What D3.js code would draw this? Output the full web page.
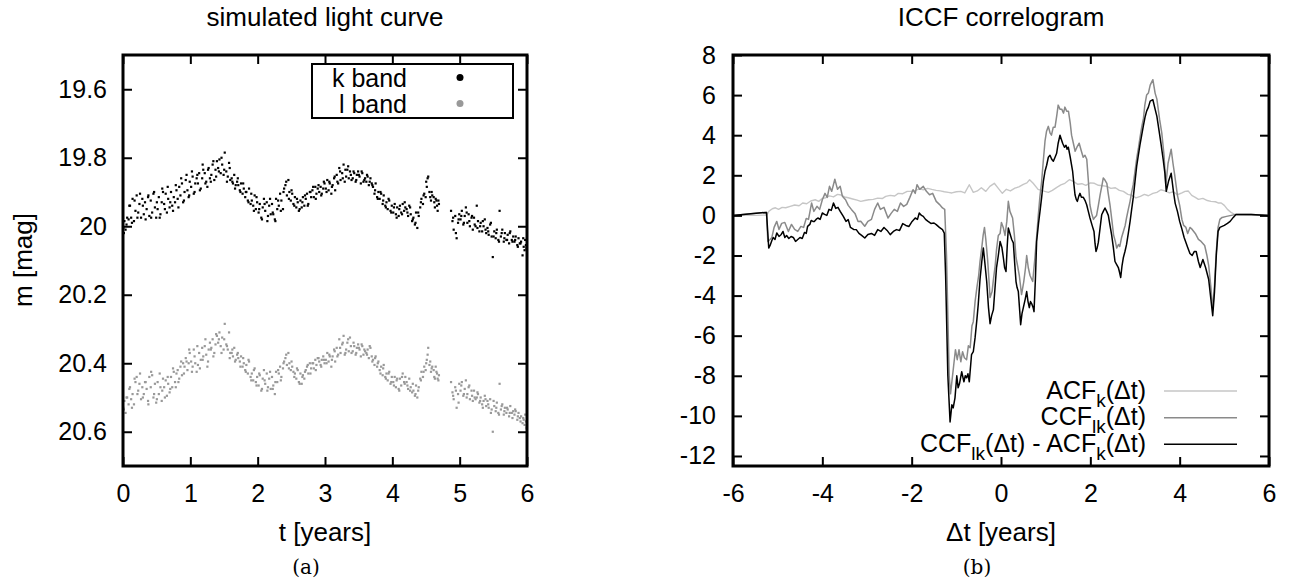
<!DOCTYPE html>
<html>
<head>
<meta charset="utf-8">
<script src="https://cdn.jsdelivr.net/npm/d3@7"></script>
<style>
  body { margin: 0; background: #fff; }
  text { font-family: "Liberation Sans", Arial, sans-serif; }
</style>
</head>
<body>
<svg id="fig" width="1290" height="587"></svg>
<script>
// ---- light curve (panel a): observation times and magnitudes in both bands ----
const tObs = [
  0.004, 0.021, 0.038, 0.062, 0.083,
  0.104, 0.121, 0.142, 0.163, 0.185,
  0.203, 0.226, 0.244, 0.268, 0.287,
  0.309, 0.327, 0.351, 0.372, 0.391,
  0.412, 0.433, 0.452, 0.474, 0.493,
  0.514, 0.532, 0.556, 0.575, 0.594,
  0.611, 0.634, 0.652, 0.671, 0.692,
  0.713, 0.731, 0.754, 0.773, 0.794,
  0.812, 0.835, 0.853, 0.876, 0.893,
  0.914, 0.932, 0.957, 0.975, 0.991,
  1.012, 1.034, 1.051, 1.073, 1.094,
  1.113, 1.131, 1.155, 1.176, 1.192,
  1.214, 1.236, 1.253, 1.272, 1.291,
  1.312, 1.331, 1.356, 1.374, 1.395,
  1.413, 1.432, 1.451, 1.473, 1.494,
  1.511, 1.534, 1.556, 1.575, 1.593,
  1.614, 1.633, 1.652, 1.674, 1.695,
  1.712, 1.735, 1.753, 1.776, 1.794,
  1.815, 1.832, 1.854, 1.872, 1.895,
  1.913, 1.934, 1.955, 1.973, 1.992,
  2.014, 2.031, 2.054, 2.075, 2.093,
  2.112, 2.135, 2.153, 2.171, 2.194,
  2.213, 2.232, 2.255, 2.273, 2.291,
  2.314, 2.333, 2.352, 2.376, 2.393,
  2.412, 2.434, 2.456, 2.471, 2.492,
  2.513, 2.531, 2.553, 2.574, 2.595,
  2.612, 2.635, 2.654, 2.672, 2.693,
  2.714, 2.733, 2.752, 2.775, 2.794,
  2.813, 2.834, 2.856, 2.873, 2.892,
  2.914, 2.935, 2.952, 2.974, 2.993,
  3.012, 3.034, 3.053, 3.071, 3.094,
  3.113, 3.135, 3.151, 3.174, 3.195,
  3.212, 3.231, 3.255, 3.276, 3.293,
  3.314, 3.332, 3.353, 3.371, 3.394,
  3.412, 3.434, 3.455, 3.473, 3.492,
  3.513, 3.532, 3.554, 3.571, 3.595,
  3.614, 3.633, 3.651, 3.675, 3.694,
  3.713, 3.735, 3.752, 3.774, 3.793,
  3.812, 3.834, 3.856, 3.872, 3.895,
  3.913, 3.931, 3.954, 3.973, 3.992,
  4.014, 4.035, 4.053, 4.072, 4.094,
  4.113, 4.132, 4.154, 4.175, 4.193,
  4.212, 4.234, 4.251, 4.273, 4.294,
  4.313, 4.335, 4.352, 4.371, 4.392,
  4.414, 4.432, 4.455, 4.474, 4.495,
  4.512, 4.533, 4.551, 4.574, 4.593,
  4.614, 4.632, 4.655, 4.673, 4.692,
  4.872, 4.893,
  4.911, 4.934, 4.955, 4.976, 4.994,
  5.013, 5.032, 5.054, 5.075, 5.092,
  5.114, 5.133, 5.152, 5.176, 5.195,
  5.213, 5.236, 5.254, 5.272, 5.293,
  5.312, 5.334, 5.355, 5.373, 5.394,
  5.413, 5.431, 5.453, 5.475, 5.492,
  5.514, 5.535, 5.552, 5.574, 5.593,
  5.612, 5.633, 5.655, 5.671, 5.694,
  5.713, 5.734, 5.752, 5.774, 5.795,
  5.814, 5.832, 5.856, 5.874, 5.893,
  5.912, 5.934, 5.951, 5.973, 5.992,
  0.013, 0.052, 0.094, 0.133, 0.172,
  0.214, 0.253, 0.295, 0.336, 0.377,
  0.418, 0.462, 0.503, 0.545, 0.583,
  0.622, 0.664, 0.702, 0.743, 0.784,
  0.823, 0.864, 0.905, 0.944, 0.983,
  1.024, 1.063, 1.104, 1.142, 1.183,
  1.224, 1.263, 1.304, 1.342, 1.383,
  1.424, 1.463, 1.503, 1.544, 1.585,
  1.624, 1.664, 1.705, 1.744, 1.785,
  1.824, 1.864, 1.905, 1.944, 1.983,
  2.023, 2.064, 2.103, 2.144, 2.184,
  2.224, 2.263, 2.304, 2.344, 2.384,
  2.424, 2.464, 2.503, 2.544, 2.584,
  2.624, 2.664, 2.703, 2.744, 2.784,
  2.824, 2.863, 2.904, 2.944, 2.983,
  3.023, 3.064, 3.103, 3.144, 3.184,
  3.224, 3.264, 3.303, 3.344, 3.384,
  3.424, 3.464, 3.503, 3.544, 3.584,
  3.624, 3.664, 3.703, 3.744, 3.784,
  3.824, 3.864, 3.904, 3.944, 3.984,
  4.024, 4.064, 4.103, 4.144, 4.184,
  4.224, 4.264, 4.304, 4.344, 4.384,
  4.424, 4.464, 4.503, 4.524, 4.563,
  4.584, 4.623, 4.644, 4.664, 4.684,
  4.903, 4.944, 4.984, 5.024, 5.063,
  5.104, 5.143, 5.184, 5.223, 5.264,
  5.304, 5.344, 5.384, 5.424, 5.464,
  5.504, 5.544, 5.584, 5.624, 5.664,
  5.704, 5.744, 5.784, 5.824, 5.864,
  5.904, 5.944, 5.964, 5.984, 5.996
];

const kMag = [
  20.005, 19.985, 20.01, 19.975, 19.98,
  19.94, 19.975, 19.92, 19.985, 19.955,
  19.91, 19.96, 19.935, 19.975, 19.92,
  19.965, 19.93, 19.95, 19.915, 19.97,
  19.925, 19.96, 19.905, 19.945, 19.975,
  19.95, 19.915, 19.965, 19.93, 19.9,
  19.935, 19.905, 19.96, 19.92, 19.945,
  19.9, 19.94, 19.915, 19.93, 19.895,
  19.92, 19.885, 19.91, 19.875, 19.93,
  19.9, 19.865, 19.895, 19.915, 19.87,
  19.885, 19.855, 19.905, 19.875, 19.86,
  19.875, 19.845, 19.89, 19.86, 19.835,
  19.845, 19.87, 19.885, 19.83, 19.86,
  19.85, 19.82, 19.865, 19.835, 19.81,
  19.83, 19.805, 19.845, 19.82, 19.85,
  19.785, 19.84, 19.855, 19.815, 19.865,
  19.86, 19.875, 19.85, 19.88, 19.87,
  19.88, 19.895, 19.875, 19.905, 19.89,
  19.915, 19.9, 19.925, 19.89, 19.935,
  19.925, 19.94, 19.91, 19.95, 19.93,
  19.96, 19.935, 19.975, 19.945, 19.92,
  19.955, 19.93, 19.97, 19.94, 19.965,
  19.935, 19.965, 19.98, 19.92, 19.95,
  19.94, 19.905, 19.925, 19.95, 19.89,
  19.88, 19.91, 19.865, 19.9, 19.925,
  19.905, 19.935, 19.915, 19.945, 19.93,
  19.955, 19.925, 19.945, 19.915, 19.94,
  19.92, 19.905, 19.935, 19.9, 19.915,
  19.895, 19.915, 19.885, 19.905, 19.89,
  19.9, 19.885, 19.905, 19.89, 19.875,
  19.89, 19.865, 19.895, 19.875, 19.905,
  19.88, 19.86, 19.895, 19.85, 19.875,
  19.83, 19.865, 19.845, 19.82, 19.87,
  19.855, 19.835, 19.86, 19.84, 19.865,
  19.86, 19.845, 19.87, 19.85, 19.84,
  19.855, 19.875, 19.845, 19.87, 19.86,
  19.87, 19.855, 19.88, 19.86, 19.875,
  19.885, 19.905, 19.875, 19.915, 19.9,
  19.92, 19.905, 19.935, 19.91, 19.94,
  19.93, 19.95, 19.925, 19.955, 19.94,
  19.96, 19.935, 19.965, 19.945, 19.97,
  19.94, 19.96, 19.935, 19.955, 19.945,
  19.95, 19.97, 19.94, 19.965, 19.985,
  19.975, 19.995, 19.96, 20.005, 19.97,
  19.945, 19.92, 19.935, 19.905, 19.915,
  19.885, 19.855, 19.9, 19.925, 19.91,
  19.915, 19.945, 19.925, 19.955, 19.935,
  19.955, 19.985,
  20.01, 19.97, 20.035, 19.99, 19.965,
  19.98, 19.955, 19.995, 19.97, 19.945,
  19.99, 19.965, 20.0, 19.975, 20.01,
  19.975, 20.0, 19.94, 19.985, 20.015,
  19.99, 20.015, 20.0, 19.98, 20.02,
  20.005, 20.025, 19.995, 20.03, 20.09,
  20.015, 20.035, 20.01, 20.04, 19.955,
  20.03, 20.01, 20.045, 20.02, 20.04,
  20.025, 20.05, 20.015, 20.04, 20.03,
  20.045, 20.03, 20.055, 20.035, 20.05,
  20.045, 20.085, 20.06, 20.04, 20.065,
  20.02, 19.995, 19.94, 19.99, 19.925,
  19.975, 19.905, 19.94, 19.98, 19.91,
  19.975, 19.9, 19.93, 19.975, 19.89,
  19.95, 19.885, 19.93, 19.955, 19.88,
  19.945, 19.86, 19.925, 19.85, 19.91,
  19.84, 19.9, 19.85, 19.895, 19.82,
  19.875, 19.835, 19.87, 19.81, 19.855,
  19.84, 19.8, 19.835, 19.87, 19.83,
  19.87, 19.89, 19.86, 19.9, 19.875,
  19.9, 19.93, 19.905, 19.955, 19.915,
  19.95, 19.98, 19.935, 19.985, 19.92,
  19.96, 19.985, 19.925, 19.955, 19.9,
  19.87, 19.92, 19.895, 19.94, 19.92,
  19.95, 19.93, 19.91, 19.94, 19.9,
  19.885, 19.92, 19.88, 19.91, 19.87,
  19.9, 19.87, 19.885, 19.855, 19.87,
  19.84, 19.86, 19.835, 19.825, 19.85,
  19.84, 19.865, 19.85, 19.84, 19.865,
  19.85, 19.87, 19.88, 19.895, 19.92,
  19.9, 19.925, 19.945, 19.92, 19.96,
  19.945, 19.975, 19.95, 19.965, 19.93,
  19.96, 19.945, 19.98, 19.99, 19.96,
  19.93, 19.91, 19.87, 19.86, 19.915,
  19.9, 19.93, 19.92, 19.94, 19.925,
  19.975, 20.02, 19.98, 19.97, 19.99,
  19.96, 19.985, 19.97, 19.995, 20.005,
  20.0, 19.985, 20.01, 20.015, 19.99,
  20.03, 20.02, 20.045, 20.02, 20.035,
  20.04, 20.02, 20.045, 20.04, 20.06,
  20.05, 20.035, 20.07, 20.055, 20.06
];

const lMag = [
  20.53, 20.51, 20.545, 20.50, 20.52,
  20.47, 20.505, 20.49, 20.52, 20.455,
  20.44, 20.48, 20.46, 20.505, 20.47,
  20.49, 20.455, 20.475, 20.51, 20.44,
  20.47, 20.435, 20.5, 20.46, 20.515,
  20.455, 20.49, 20.47, 20.51, 20.445,
  20.47, 20.45, 20.495, 20.46, 20.485,
  20.44, 20.47, 20.425, 20.455, 20.43,
  20.42, 20.445, 20.41, 20.435, 20.4,
  20.41, 20.385, 20.42, 20.4, 20.37,
  20.395, 20.41, 20.36, 20.4, 20.425,
  20.405, 20.37, 20.39, 20.355, 20.38,
  20.35, 20.375, 20.41, 20.36, 20.34,
  20.355, 20.33, 20.37, 20.345, 20.32,
  20.34, 20.31, 20.35, 20.325, 20.36,
  20.285, 20.345, 20.36, 20.31, 20.37,
  20.37, 20.38, 20.355, 20.39, 20.375,
  20.385, 20.395, 20.38, 20.41, 20.4,
  20.42, 20.405, 20.43, 20.395, 20.44,
  20.43, 20.45, 20.415, 20.455, 20.44,
  20.465, 20.435, 20.48, 20.445, 20.42,
  20.46, 20.43, 20.47, 20.445, 20.475,
  20.44, 20.465, 20.49, 20.425, 20.455,
  20.43, 20.41, 20.44, 20.415, 20.395,
  20.385, 20.405, 20.37, 20.4, 20.42,
  20.41, 20.425, 20.43, 20.445, 20.42,
  20.455, 20.43, 20.46, 20.435, 20.445,
  20.42, 20.41, 20.43, 20.4, 20.415,
  20.4, 20.415, 20.39, 20.405, 20.385,
  20.395, 20.405, 20.39, 20.38, 20.4,
  20.39, 20.37, 20.395, 20.38, 20.41,
  20.38, 20.36, 20.395, 20.355, 20.375,
  20.33, 20.37, 20.345, 20.32, 20.375,
  20.36, 20.34, 20.365, 20.325, 20.37,
  20.365, 20.35, 20.375, 20.355, 20.345,
  20.36, 20.38, 20.35, 20.375, 20.365,
  20.37, 20.36, 20.385, 20.355, 20.38,
  20.39, 20.405, 20.38, 20.41, 20.395,
  20.42, 20.41, 20.435, 20.405, 20.44,
  20.43, 20.45, 20.425, 20.46, 20.44,
  20.455, 20.44, 20.47, 20.445, 20.475,
  20.445, 20.465, 20.43, 20.455, 20.44,
  20.455, 20.475, 20.445, 20.47, 20.485,
  20.48, 20.495, 20.465, 20.5, 20.47,
  20.445, 20.425, 20.44, 20.41, 20.42,
  20.39, 20.355, 20.405, 20.425, 20.41,
  20.42, 20.445, 20.425, 20.445, 20.435,
  20.455, 20.485,
  20.505, 20.47, 20.53, 20.49, 20.46,
  20.48, 20.455, 20.495, 20.475, 20.45,
  20.49, 20.47, 20.505, 20.48, 20.51,
  20.48, 20.505, 20.5, 20.49, 20.515,
  20.5, 20.52, 20.51, 20.495, 20.525,
  20.51, 20.53, 20.505, 20.535, 20.6,
  20.525, 20.54, 20.515, 20.545, 20.46,
  20.535, 20.52, 20.55, 20.53, 20.545,
  20.535, 20.555, 20.525, 20.545, 20.54,
  20.55, 20.54, 20.565, 20.545, 20.56,
  20.555, 20.575, 20.565, 20.55, 20.59,
  20.535, 20.5, 20.475, 20.53, 20.445,
  20.49, 20.43, 20.5, 20.455, 20.52,
  20.425, 20.49, 20.505, 20.43, 20.48,
  20.5, 20.44, 20.475, 20.415, 20.47,
  20.455, 20.395, 20.43, 20.395, 20.36,
  20.425, 20.38, 20.35, 20.415, 20.39,
  20.33, 20.395, 20.36, 20.38, 20.315,
  20.33, 20.37, 20.33, 20.35, 20.385,
  20.36, 20.395, 20.37, 20.41, 20.385,
  20.425, 20.39, 20.45, 20.42, 20.465,
  20.43, 20.475, 20.45, 20.48, 20.425,
  20.475, 20.455, 20.42, 20.45, 20.4,
  20.375, 20.415, 20.395, 20.44, 20.415,
  20.46, 20.44, 20.425, 20.405, 20.43,
  20.4, 20.42, 20.385, 20.41, 20.39,
  20.4, 20.375, 20.39, 20.365, 20.38,
  20.355, 20.34, 20.37, 20.33, 20.35,
  20.34, 20.37, 20.355, 20.345, 20.36,
  20.375, 20.35, 20.395, 20.385, 20.4,
  20.43, 20.415, 20.445, 20.43, 20.455,
  20.465, 20.45, 20.48, 20.44, 20.46,
  20.465, 20.48, 20.46, 20.49, 20.48,
  20.45, 20.425, 20.4, 20.375, 20.395,
  20.415, 20.44, 20.41, 20.43, 20.45,
  20.495, 20.48, 20.515, 20.465, 20.49,
  20.5, 20.465, 20.495, 20.5, 20.485,
  20.51, 20.53, 20.505, 20.52, 20.545,
  20.51, 20.53, 20.55, 20.525, 20.54,
  20.53, 20.545, 20.56, 20.535, 20.555,
  20.57, 20.56, 20.58, 20.57, 20.585
];

const timeTicks = [0, 1, 2, 3, 4, 5, 6];
const magTicks = [19.6, 19.8, 20, 20.2, 20.4, 20.6];

// ---- correlogram (panel b): [lag, value] ----
const acfPoints = [
  [-6, 0], [-5.5, 0], [-5.24, 0.02], [-5.2, 0.2], [-5.12, 0.33], [-5.05, 0.38], [-4.98, 0.3],
  [-4.9, 0.4], [-4.82, 0.38], [-4.72, 0.45], [-4.62, 0.52], [-4.52, 0.48], [-4.44, 0.62],
  [-4.35, 0.58], [-4.26, 0.72], [-4.16, 0.78], [-4.08, 0.7], [-4.0, 0.85], [-3.92, 0.88],
  [-3.84, 0.97], [-3.75, 0.92], [-3.66, 1.05], [-3.58, 1.02], [-3.5, 0.92], [-3.42, 0.88],
  [-3.32, 0.82], [-3.22, 0.76], [-3.14, 0.7], [-3.05, 0.74], [-2.96, 0.78], [-2.86, 0.8],
  [-2.76, 0.86], [-2.66, 0.84], [-2.58, 0.95], [-2.48, 1.0], [-2.38, 0.97], [-2.3, 1.1],
  [-2.2, 1.08], [-2.1, 1.2], [-2.02, 1.2], [-1.92, 1.25], [-1.82, 1.32], [-1.74, 1.28],
  [-1.64, 1.35], [-1.55, 1.3], [-1.45, 1.25], [-1.36, 1.22], [-1.27, 1.18], [-1.18, 1.15],
  [-1.1, 1.12], [-1.0, 1.18], [-0.9, 1.2], [-0.81, 1.12], [-0.71, 1.53], [-0.62, 1.15],
  [-0.53, 1.22], [-0.44, 1.38], [-0.34, 1.2], [-0.25, 1.45], [-0.15, 1.6], [-0.06, 1.35],
  [0.03, 1.1], [0.12, 1.3], [0.21, 1.22], [0.31, 1.36], [0.4, 1.42], [0.5, 1.55], [0.58, 1.62],
  [0.64, 1.78], [0.72, 1.6], [0.83, 1.3], [0.94, 1.22], [1.06, 1.15], [1.15, 1.25], [1.25, 1.4],
  [1.34, 1.52], [1.43, 1.6], [1.53, 1.78], [1.62, 1.7], [1.72, 1.55], [1.81, 1.58], [1.9, 1.5],
  [2.0, 1.62], [2.09, 1.6], [2.18, 1.5], [2.28, 1.48], [2.37, 1.45], [2.46, 1.35], [2.56, 1.38],
  [2.65, 1.25], [2.74, 1.2], [2.84, 1.05], [2.93, 1.0], [3.02, 0.87], [3.12, 0.95], [3.21, 1.05],
  [3.3, 0.98], [3.4, 1.1], [3.49, 1.15], [3.58, 1.28], [3.67, 1.22], [3.77, 1.12], [3.86, 1.18],
  [3.95, 1.03], [4.05, 1.12], [4.12, 1.2], [4.19, 1.22], [4.27, 1.0], [4.35, 0.9], [4.42, 0.8],
  [4.52, 0.85], [4.62, 0.74], [4.7, 0.7], [4.8, 0.68], [4.86, 0.62], [4.93, 0.62], [5.0, 0.5],
  [5.07, 0.3], [5.15, 0.15], [5.21, 0.08], [5.26, 0.03], [5.4, 0.02], [5.6, 0], [5.8, 0], [6.0, 0]
];

const ccfPoints = [
  [-6, 0], [-5.6, 0.08], [-5.25, 0.15], [-5.22, -1.3], [-5.17, -1.2], [-5.13, -1.1], [-5.08, -0.6],
  [-5.02, -0.3], [-4.97, -0.7], [-4.91, -0.4], [-4.84, -0.35], [-4.76, -0.8], [-4.69, -0.45],
  [-4.62, -0.7], [-4.55, -0.8], [-4.48, -0.55], [-4.42, -0.6], [-4.36, -0.15], [-4.31, -0.2],
  [-4.24, 0.62], [-4.19, 0.2], [-4.12, 0.45], [-4.06, 0.3], [-4.0, 0.78], [-3.94, 1.1],
  [-3.89, 0.9], [-3.84, 1.45], [-3.79, 1.2], [-3.72, 1.8], [-3.66, 1.3], [-3.6, 1.45],
  [-3.55, 0.95], [-3.48, 0.78], [-3.42, 0.5], [-3.35, 0.3], [-3.27, 0.1], [-3.2, -0.3],
  [-3.14, -0.29], [-3.05, -0.54], [-2.98, -0.3], [-2.9, -0.2], [-2.83, 0.3], [-2.76, 0.62],
  [-2.7, 0.3], [-2.62, 0.4], [-2.53, -0.13], [-2.46, 0.1], [-2.39, 0.3], [-2.32, 0.2],
  [-2.25, 0.62], [-2.18, 0.45], [-2.11, 0.55], [-2.04, 0.9], [-1.97, 1.28], [-1.92, 1.1],
  [-1.88, 1.53], [-1.82, 1.3], [-1.74, 1.45], [-1.67, 1.2], [-1.6, 1.03], [-1.53, 1.1],
  [-1.45, 0.7], [-1.38, 0.55], [-1.31, 0.37], [-1.26, 0.3], [-1.22, -2.0], [-1.16, -8.0],
  [-1.13, -8.9], [-1.1, -8.3], [-1.06, -7.5], [-1.02, -6.7], [-0.98, -7.2], [-0.94, -6.7],
  [-0.9, -7.3], [-0.86, -6.8], [-0.82, -7.1], [-0.77, -7.2], [-0.73, -6.5], [-0.69, -6.6],
  [-0.65, -5.5], [-0.62, -5.3], [-0.58, -4.3], [-0.54, -3.6], [-0.5, -3.0], [-0.47, -2.3],
  [-0.43, -1.6], [-0.4, -1.0], [-0.37, -0.6], [-0.34, -1.2], [-0.3, -2.2], [-0.27, -3.2],
  [-0.245, -4.1], [-0.2, -3.8], [-0.17, -3.2], [-0.13, -2.5], [-0.1, -1.7], [-0.06, -1.0],
  [-0.02, -0.9], [0.01, -0.35], [0.05, -0.6], [0.09, -1.0], [0.13, -0.3], [0.164, 0.7],
  [0.2, 0.2], [0.26, -0.13], [0.3, -1.0], [0.336, -2.1], [0.37, -2.5], [0.41, -3.0],
  [0.46, -3.95], [0.51, -3.3], [0.55, -2.6], [0.575, -2.0], [0.61, -2.6], [0.65, -3.0],
  [0.71, -3.3], [0.76, -2.1], [0.8, -1.0], [0.836, 0.03], [0.87, 0.9], [0.91, 1.7],
  [0.95, 2.8], [0.985, 3.7], [1.02, 4.2], [1.06, 4.44], [1.1, 4.1], [1.13, 4.0], [1.17, 4.4],
  [1.21, 4.4], [1.25, 5.0], [1.28, 5.5], [1.32, 5.3], [1.36, 5.3], [1.4, 5.1], [1.43, 5.4],
  [1.47, 5.2], [1.51, 5.2], [1.55, 4.6], [1.58, 4.0], [1.62, 3.6], [1.66, 3.2], [1.7, 3.4],
  [1.75, 3.6], [1.8, 3.2], [1.84, 2.9], [1.88, 3.0], [1.92, 2.8], [1.96, 1.6], [1.99, 0.53],
  [2.03, 0.1], [2.07, -0.2], [2.1, -0.1], [2.14, 0.0], [2.18, 0.5], [2.22, 1.03], [2.26, 1.5],
  [2.29, 1.87], [2.33, 1.75], [2.37, 1.6], [2.4, 1.1], [2.44, 0.53], [2.48, -0.2],
  [2.52, -0.97], [2.56, -1.3], [2.59, -1.63], [2.63, -1.45], [2.66, -1.55], [2.7, -1.1],
  [2.74, -0.8], [2.78, -0.5], [2.81, -0.13], [2.85, 0.3], [2.89, 0.7], [2.92, 1.1],
  [2.96, 1.53], [3.0, 2.2], [3.04, 2.87], [3.08, 3.4], [3.11, 3.86], [3.15, 4.4], [3.19, 4.85],
  [3.22, 5.5], [3.26, 6.0], [3.3, 6.1], [3.34, 6.5], [3.4, 6.77], [3.45, 6.1], [3.49, 5.8],
  [3.55, 4.8], [3.6, 4.1], [3.65, 3.0], [3.69, 1.5], [3.74, 2.6], [3.81, 3.3], [3.85, 2.6],
  [3.89, 2.0], [3.95, 1.0], [4.0, 0.5], [4.05, -0.2], [4.09, -0.5], [4.14, -0.6], [4.18, -0.9],
  [4.23, -0.6], [4.28, -0.7], [4.35, -0.9], [4.42, -1.2], [4.48, -1.3], [4.56, -1.5],
  [4.61, -2.0], [4.65, -2.5], [4.7, -3.6], [4.74, -4.7], [4.78, -3.5], [4.82, -1.8],
  [4.86, -0.6], [4.9, -0.2], [4.95, -0.1], [5.05, -0.05], [5.26, 0.05], [5.6, 0.05], [6.0, 0]
];

const diffPoints = [
  [-6, 0], [-5.6, 0.08], [-5.25, 0.15], [-5.2, -1.63], [-5.17, -1.5], [-5.13, -1.25], [-5.1, -1.1],
  [-5.06, -1.2], [-5.02, -0.88], [-4.97, -1.05], [-4.92, -0.95], [-4.88, -0.8], [-4.84, -1.1],
  [-4.8, -1.0], [-4.75, -1.15], [-4.7, -1.05], [-4.65, -1.1], [-4.6, -1.3], [-4.55, -1.2],
  [-4.5, -1.1], [-4.45, -1.15], [-4.4, -0.85], [-4.36, -0.9], [-4.33, -0.55], [-4.28, -0.45],
  [-4.25, -0.25], [-4.21, -0.3], [-4.18, -0.3], [-4.14, -0.2], [-4.1, -0.13], [-4.05, -0.2],
  [-4.0, 0.12], [-3.95, 0.05], [-3.9, 0.0], [-3.85, 0.3], [-3.8, 0.25], [-3.75, 0.62],
  [-3.7, 0.35], [-3.65, 0.4], [-3.6, 0.2], [-3.53, -0.05], [-3.47, -0.3], [-3.42, -0.21],
  [-3.37, -0.6], [-3.3, -0.7], [-3.24, -0.71], [-3.18, -0.9], [-3.12, -1.0], [-3.05, -1.13],
  [-2.98, -0.95], [-2.9, -0.9], [-2.83, -1.0], [-2.76, -0.71], [-2.69, -0.8], [-2.62, -0.6],
  [-2.55, -0.75], [-2.48, -0.96], [-2.41, -0.8], [-2.34, -0.71], [-2.27, -0.75], [-2.2, -0.41],
  [-2.13, -0.5], [-2.06, -0.55], [-1.99, -0.3], [-1.92, -0.13], [-1.87, -0.2], [-1.83, 0.12],
  [-1.78, 0.0], [-1.74, -0.05], [-1.69, -0.2], [-1.64, -0.29], [-1.57, -0.4], [-1.5, -0.38],
  [-1.45, -0.46], [-1.38, -0.6], [-1.31, -0.71], [-1.27, -0.88], [-1.24, -3.0], [-1.19, -8.0],
  [-1.14, -10.3], [-1.1, -9.45], [-1.07, -9.6], [-1.03, -9.1], [-0.99, -8.0], [-0.96, -8.6],
  [-0.93, -8.4], [-0.88, -7.8], [-0.83, -8.3], [-0.8, -8.0], [-0.77, -8.1], [-0.74, -7.9],
  [-0.71, -8.3], [-0.66, -6.95], [-0.62, -6.8], [-0.58, -6.1], [-0.54, -5.2], [-0.51, -4.45],
  [-0.47, -3.2], [-0.43, -2.3], [-0.395, -1.63], [-0.36, -2.4], [-0.32, -3.3], [-0.28, -4.6],
  [-0.245, -5.4], [-0.21, -5.0], [-0.17, -4.7], [-0.13, -3.5], [-0.1, -2.6], [-0.06, -2.0],
  [-0.02, -1.3], [0.02, -1.6], [0.052, -2.1], [0.08, -2.6], [0.112, -2.8], [0.14, -1.5],
  [0.164, -0.63], [0.2, -0.9], [0.24, -1.2], [0.276, -1.37], [0.31, -2.5], [0.336, -3.3],
  [0.36, -3.6], [0.388, -3.8], [0.42, -4.8], [0.44, -5.45], [0.47, -4.9], [0.5, -4.6],
  [0.54, -4.2], [0.575, -3.8], [0.605, -4.3], [0.634, -4.6], [0.66, -4.3], [0.686, -4.4],
  [0.72, -4.6], [0.739, -4.8], [0.77, -3.2], [0.798, -1.3], [0.84, -0.4], [0.873, 0.2],
  [0.91, 0.9], [0.948, 1.7], [0.985, 2.2], [1.022, 2.5], [1.06, 2.9], [1.097, 3.0],
  [1.135, 2.8], [1.172, 2.7], [1.21, 2.9], [1.246, 3.1], [1.28, 3.6], [1.321, 4.0],
  [1.35, 3.8], [1.38, 3.6], [1.42, 3.4], [1.455, 3.5], [1.48, 3.3], [1.507, 3.4], [1.55, 2.9],
  [1.604, 2.19], [1.63, 1.6], [1.657, 1.03], [1.685, 0.8], [1.71, 0.7], [1.74, 0.95],
  [1.768, 1.1], [1.8, 0.9], [1.843, 0.9], [1.88, 0.75], [1.918, 0.53], [1.955, 0.2],
  [1.992, -0.13], [2.04, -0.5], [2.082, -0.8], [2.105, -1.4], [2.127, -1.8], [2.155, -1.6],
  [2.179, -1.35], [2.22, -0.6], [2.254, 0.03], [2.29, 0.2], [2.328, 0.37], [2.365, 0.2],
  [2.403, 0.0], [2.44, -0.5], [2.477, -0.97], [2.515, -1.6], [2.552, -2.3], [2.59, -2.45],
  [2.627, -2.6], [2.655, -2.85], [2.68, -3.1], [2.71, -2.5], [2.74, -2.1], [2.775, -1.8],
  [2.81, -1.46], [2.85, -0.9], [2.89, -0.3], [2.925, 0.3], [2.96, 0.87], [3.0, 1.7],
  [3.04, 2.5], [3.075, 3.0], [3.11, 3.5], [3.15, 4.0], [3.19, 4.5], [3.225, 4.9], [3.26, 5.2],
  [3.3, 5.4], [3.34, 5.7], [3.4, 5.77], [3.45, 5.3], [3.49, 4.94], [3.54, 4.2], [3.58, 3.6],
  [3.63, 2.8], [3.67, 2.1], [3.7, 1.2], [3.75, 1.7], [3.81, 2.1], [3.86, 1.2], [3.9, 0.6],
  [3.95, 0.2], [4.0, -0.3], [4.04, -0.6], [4.1, -1.1], [4.18, -1.6], [4.23, -1.9], [4.28, -2.0],
  [4.33, -1.8], [4.37, -1.8], [4.42, -2.3], [4.46, -2.6], [4.52, -2.2], [4.58, -2.6],
  [4.65, -3.2], [4.7, -4.2], [4.74, -5.0], [4.78, -3.8], [4.82, -2.0], [4.86, -0.8],
  [4.9, -0.6], [4.95, -0.55], [5.0, -0.5], [5.07, -0.4], [5.13, -0.3], [5.2, -0.1],
  [5.26, 0.05], [5.6, 0.05], [6.0, 0]
];

const lagTicks = [-6, -4, -2, 0, 2, 4, 6];
const corrTicks = [8, 6, 4, 2, 0, -2, -4, -6, -8, -10, -12];

const svg = d3.select("#fig");
svg.append("rect").attr("width", 1290).attr("height", 587).attr("fill", "#fff");

// gnuplot-ish box: inward ticks on all four sides, labels only left/bottom
function drawFrame(x, y, xTicks, yTicks, yFmt, yPad) {
  const [x0, x1] = x.range();
  const [yb, yt] = [Math.max(...y.range()), Math.min(...y.range())];
  const style = g => {
    g.select(".domain").remove();
    g.selectAll(".tick line").attr("stroke", "#000").attr("stroke-width", 2);
    g.attr("font-size", 25).attr("font-family", '"Liberation Sans", Arial, sans-serif');
    g.selectAll(".tick text").attr("fill", "#000");
  };
  svg.append("g").attr("transform", `translate(0,${yb})`)
    .call(d3.axisBottom(x).tickValues(xTicks).tickSizeInner(-9).tickSizeOuter(0)
      .tickPadding(18).tickFormat(d => String(d))).call(style);
  svg.append("g").attr("transform", `translate(0,${yt})`)
    .call(d3.axisTop(x).tickValues(xTicks).tickSizeInner(-9).tickSizeOuter(0).tickFormat(""))
    .call(style);
  svg.append("g").attr("transform", `translate(${x0},0)`)
    .call(d3.axisLeft(y).tickValues(yTicks).tickSizeInner(-9).tickSizeOuter(0)
      .tickPadding(yPad).tickFormat(yFmt)).call(style);
  svg.append("g").attr("transform", `translate(${x1},0)`)
    .call(d3.axisRight(y).tickValues(yTicks).tickSizeInner(-9).tickSizeOuter(0).tickFormat(""))
    .call(style);
  svg.append("rect").attr("x", x0).attr("y", yt).attr("width", x1 - x0).attr("height", yb - yt)
    .attr("fill", "none").attr("stroke", "#000").attr("stroke-width", 3);
}

// ---------- panel (a) ----------
const xL = d3.scaleLinear().domain([0, 6]).range([123, 527]);
const yL = d3.scaleLinear().domain([19.5, 20.7]).range([55, 466]);

const lc = d3.zip(tObs, kMag, lMag);
const dot = 2.2;
svg.append("g").selectAll("rect").data(lc).join("rect")
  .attr("x", d => xL(d[0]) - dot / 2).attr("y", d => yL(d[2]) - dot / 2)
  .attr("width", dot).attr("height", dot).attr("fill", "#999");
svg.append("g").selectAll("rect").data(lc).join("rect")
  .attr("x", d => xL(d[0]) - dot / 2).attr("y", d => yL(d[1]) - dot / 2)
  .attr("width", dot).attr("height", dot).attr("fill", "#000");

drawFrame(xL, yL, timeTicks, magTicks, d => String(+d.toFixed(1)), 16);

// legend (a)
const legA = svg.append("g");
legA.append("rect").attr("x", 312).attr("y", 64).attr("width", 201).attr("height", 54)
  .attr("fill", "#fff").attr("stroke", "#000").attr("stroke-width", 2);
[["k band", "#000", 87], ["l band", "#999", 113]].forEach(([label, col, yb]) => {
  legA.append("text").attr("x", 407).attr("y", yb).attr("text-anchor", "end")
    .attr("font-size", 25).text(label);
  legA.append("circle").attr("cx", 460).attr("cy", yb - 9.5).attr("r", 3.5).attr("fill", col);
});

svg.append("text").attr("x", 325).attr("y", 26).attr("text-anchor", "middle")
  .attr("font-size", 26).text("simulated light curve");
svg.append("text").attr("x", 325).attr("y", 541).attr("text-anchor", "middle")
  .attr("font-size", 26).text("t [years]");
svg.append("text").attr("transform", "translate(32,260) rotate(-90)").attr("text-anchor", "middle")
  .attr("font-size", 26).text("m [mag]");
svg.append("text").attr("x", 306).attr("y", 574).attr("text-anchor", "middle")
  .attr("font-size", 20).style("font-family", '"DejaVu Serif", serif').text("(a)");

// ---------- panel (b) ----------
const xR = d3.scaleLinear().domain([-6, 6]).range([733, 1269]);
const yR = d3.scaleLinear().domain([-12.5, 8]).range([466, 55]);
const line = d3.line().x(d => xR(d[0])).y(d => yR(d[1]));

const series = [
  { pts: acfPoints, color: "#c6c6c6", w: 1.4 },
  { pts: ccfPoints, color: "#8a8a8a", w: 1.5 },
  { pts: diffPoints, color: "#000", w: 1.5 }
];
series.forEach(s => {
  svg.append("path").datum(s.pts).attr("d", line)
    .attr("fill", "none").attr("stroke", s.color).attr("stroke-width", s.w)
    .attr("stroke-linejoin", "round");
});

drawFrame(xR, yR, lagTicks, corrTicks, d => String(d), 17);

// legend (b)
const legB = svg.append("g");
const legRows = [
  { parts: [["ACF", 0], ["k", 1], ["(Δt)", 0]], color: "#c6c6c6", y: 391 },
  { parts: [["CCF", 0], ["lk", 1], ["(Δt)", 0]], color: "#8a8a8a", y: 417.7 },
  { parts: [["CCF", 0], ["lk", 1], ["(Δt) - ACF", 0], ["k", 1], ["(Δt)", 0]], color: "#000", y: 444.3 }
];
legRows.forEach(r => {
  const t = legB.append("text").attr("x", 1146).attr("y", r.y + 7.5)
    .attr("text-anchor", "end").attr("font-size", 25);
  let low = false;
  r.parts.forEach(([s, sub]) => {
    const ts = t.append("tspan").text(s);
    if (sub && !low) { ts.attr("dy", 8).attr("font-size", 19); low = true; }
    else if (!sub && low) { ts.attr("dy", -8); low = false; }
  });
  legB.append("line").attr("x1", 1164).attr("x2", 1237).attr("y1", r.y).attr("y2", r.y)
    .attr("stroke", r.color).attr("stroke-width", 1.5);
});

svg.append("text").attr("x", 1001).attr("y", 26).attr("text-anchor", "middle")
  .attr("font-size", 26).text("ICCF correlogram");
svg.append("text").attr("x", 1001).attr("y", 541).attr("text-anchor", "middle")
  .attr("font-size", 26).text("Δt [years]");
svg.append("text").attr("x", 977).attr("y", 574).attr("text-anchor", "middle")
  .attr("font-size", 20).style("font-family", '"DejaVu Serif", serif').text("(b)");
</script>
</body>
</html>
